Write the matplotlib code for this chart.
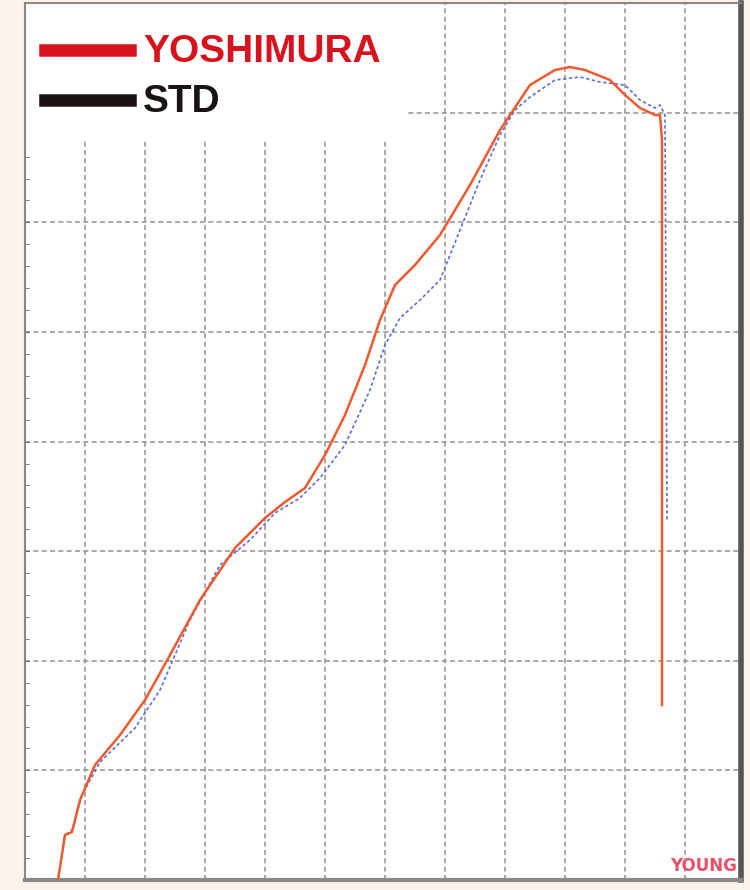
import matplotlib
matplotlib.use("Agg")
import matplotlib.pyplot as plt
from matplotlib.patches import Rectangle
import numpy as np

# pixel-read points converted to data units (x: rpm grid units, y: power grid units)
yosh_px_x = [58,65,72,80,95,120,145,170,200,235,265,285,305,325,345,365,380,395,415,440,470,500,530,555,570,585,610,625,640,655,660,662,662]
yosh_px_y = [880,835,832,800,765,735,700,655,600,548,518,502,488,455,415,365,320,285,265,235,185,130,85,70,67,70,80,95,108,115,115,140,705]
std_px_x = [58,65,72,82,100,135,160,190,220,250,275,300,320,345,370,385,400,420,440,460,480,500,515,530,555,580,600,625,640,655,660,665,667]
std_px_y = [880,835,830,795,762,728,690,620,565,540,513,498,478,445,390,345,318,300,280,230,180,135,110,97,80,77,82,85,100,108,105,115,520]

yosh_x = [(p - 25) / 60 for p in yosh_px_x]
yosh_y = [(880 - p) / 109.6 for p in yosh_px_y]
std_x = [(p - 25) / 60 for p in std_px_x]
std_y = [(880 - p) / 109.6 for p in std_px_y]

fig = plt.figure(figsize=(7.5, 8.9), dpi=100, facecolor="#fcf3ec")
ax = fig.add_axes([25/750, 10/890, (741-25)/750, 877/890])
ax.set_facecolor("white")
ax.set_xlim(0, (741-25)/60)
ax.set_ylim(0, 877/109.6)
ax.set_xticks(np.arange(1, 12, 1))
ax.set_yticks(np.arange(0, 9, 1))
ax.set_yticks(np.arange(0, 8, 0.2), minor=True)
ax.tick_params(axis="x", length=0, labelbottom=False)
ax.tick_params(axis="y", which="both", direction="in", length=3, color="#666", labelleft=False)
ax.grid(True, color="#999999", linestyle=(0, (3, 2)), linewidth=1.2)
for s in ["left", "top", "bottom"]:
    ax.spines[s].set_color("#888888")
    ax.spines[s].set_linewidth(1.5)
ax.spines["right"].set_color("#555555")
ax.spines["right"].set_linewidth(4)
ax.spines["bottom"].set_linewidth(3)

ax.add_patch(Rectangle((0, (880-140)/109.6), (405-25)/60, 10, facecolor="white",
                       edgecolor="none", zorder=2.5))

ax.plot(std_x, std_y, color="#5a6fd8", linestyle=(0, (2, 1.5)), linewidth=1.2, zorder=3)
ax.plot(yosh_x, yosh_y, color="#f05a30", linewidth=1.8, zorder=4)

fig.lines.append(plt.Line2D([45/750, 130/750], [1-50/890]*2, color="#d7141e", linewidth=9, transform=fig.transFigure))
fig.lines.append(plt.Line2D([45/750, 130/750], [1-100/890]*2, color="#1a1311", linewidth=9, transform=fig.transFigure))
fig.text(143/750, 1-52/890, "YOSHIMURA", color="#d7141e", fontsize=28, fontweight="bold", va="center", family="Liberation Sans")
fig.text(143/750, 1-102/890, "STD", color="#1a1311", fontsize=28, fontweight="bold", va="center", family="Liberation Sans")
fig.text(737/750, 1-866/890, "YOUNG", color="#e8506a", fontsize=12, fontweight="bold", ha="right", va="center", zorder=10)

fig.savefig("out.png", dpi=100, facecolor=fig.get_facecolor())
